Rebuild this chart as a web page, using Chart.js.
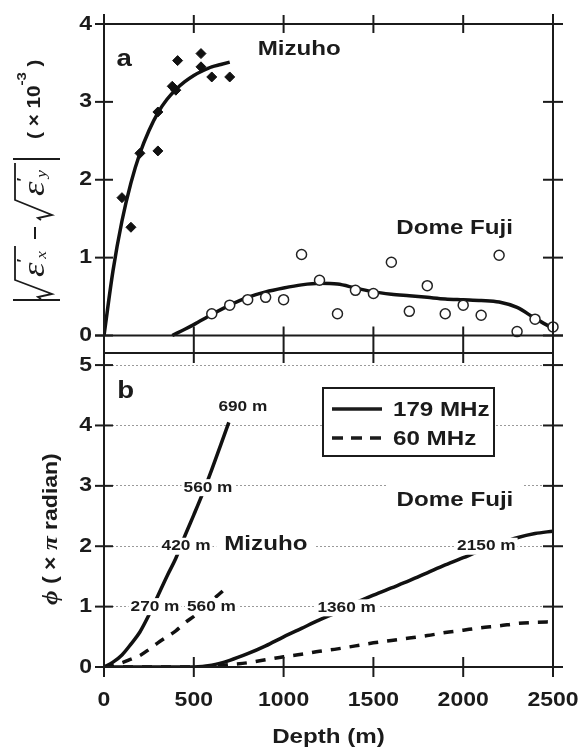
<!DOCTYPE html>
<html>
<head>
<meta charset="utf-8">
<script src="https://cdn.jsdelivr.net/npm/chart.js@4.4.1/dist/chart.umd.min.js"></script>
<style>
  html, body { margin: 0; background: #fff; }
  canvas { display: block; }
</style>
</head>
<body>
<canvas id="fig" width="580" height="752"></canvas>
<script>
// ---- panel a : measured points ----
var mizuhoDepth = [100, 150, 200, 300, 300, 380, 400, 410, 540, 540, 600, 700];
var mizuhoAniso = [1.77, 1.39, 2.34, 2.37, 2.87, 3.20, 3.15, 3.53, 3.62, 3.45, 3.32, 3.32];
var domeDepth = [600, 700, 800, 900, 1000, 1100, 1200, 1300, 1400, 1500, 1600, 1700, 1800, 1900, 2000, 2100, 2200, 2300, 2400, 2500];
var domeAniso = [0.28, 0.39, 0.46, 0.49, 0.46, 1.04, 0.71, 0.28, 0.58, 0.54, 0.94, 0.31, 0.64, 0.28, 0.39, 0.26, 1.03, 0.05, 0.21, 0.11];

// ---- panel a : fitted curves ----
var mizuhoFitDepth = [0, 50, 100, 150, 200, 250, 300, 350, 400, 450, 500, 550, 600, 650, 700];
var mizuhoFit = [0, 0.83, 1.47, 1.96, 2.34, 2.63, 2.86, 3.03, 3.16, 3.26, 3.34, 3.40, 3.45, 3.48, 3.51];
var domeFitDepth = [380, 450, 500, 600, 700, 800, 900, 1000, 1100, 1200, 1300, 1400, 1500, 1600, 1700, 1800, 1900, 2000, 2100, 2200, 2300, 2400, 2500];
var domeFit = [0, 0.08, 0.14, 0.27, 0.39, 0.49, 0.56, 0.61, 0.65, 0.67, 0.66, 0.61, 0.56, 0.53, 0.51, 0.49, 0.47, 0.46, 0.45, 0.43, 0.36, 0.22, 0.09];

// ---- panel b : phase difference (x pi radian) ----
var mizuhoPhaseDepth = [0, 50, 100, 150, 200, 250, 300, 350, 400, 450, 500, 550, 600, 650, 695];
var mizuho179 = [0, 0.08, 0.2, 0.38, 0.58, 0.86, 1.18, 1.5, 1.8, 2.17, 2.52, 2.88, 3.27, 3.68, 4.05];
var mizuho60 = [0, 0.03, 0.07, 0.13, 0.19, 0.29, 0.4, 0.5, 0.6, 0.73, 0.84, 0.96, 1.1, 1.23, 1.36];
var domePhaseDepth = [0, 500, 600, 700, 800, 900, 1000, 1100, 1200, 1300, 1400, 1500, 1600, 1700, 1800, 1900, 2000, 2100, 2200, 2300, 2400, 2500];
var dome179 = [0, 0, 0.03, 0.11, 0.22, 0.35, 0.5, 0.64, 0.78, 0.91, 1.06, 1.19, 1.31, 1.43, 1.56, 1.69, 1.81, 1.93, 2.04, 2.14, 2.21, 2.25];
var dome60 = [0, 0, 0.01, 0.04, 0.07, 0.12, 0.17, 0.21, 0.26, 0.3, 0.35, 0.4, 0.44, 0.48, 0.52, 0.57, 0.61, 0.65, 0.68, 0.72, 0.74, 0.75];

// ---- axes ----
var depthTicks = [0, 500, 1000, 1500, 2000, 2500];
var anisoTicks = [0, 1, 2, 3, 4];
var phaseTicks = [0, 1, 2, 3, 4, 5];

// depth labels on the curves, in data units [text, depth, phase]
var curveLabels = [
  ['690 m', 773, 4.3], ['560 m', 579, 2.97], ['420 m', 457, 2.0], ['270 m', 284, 1.0],
  ['560 m', 598, 1.0], ['1360 m', 1351, 0.98], ['2150 m', 2129, 2.0]
];

var INK = '#1b1b1b';
var SANS = '"Liberation Sans", Arial, sans-serif';
var SERIF = '"Liberation Serif", "DejaVu Serif", serif';
var SX = 1.15;

function pts(xs, ys) {
  return xs.map(function (v, i) { return { x: v, y: ys[i] }; });
}

function txt(ctx, s, x, y, size, align) {
  ctx.save();
  ctx.font = 'bold ' + size + 'px ' + SANS;
  ctx.textAlign = align || 'center';
  ctx.textBaseline = 'middle';
  ctx.fillStyle = INK;
  ctx.translate(x, y);
  ctx.scale(SX, 1);
  ctx.fillText(s, 0, 0);
  ctx.restore();
}

function boxed(ctx, s, x, y, size, padX, padY) {
  ctx.font = 'bold ' + size + 'px ' + SANS;
  var w = ctx.measureText(s).width * SX;
  ctx.fillStyle = '#fff';
  ctx.fillRect(x - w / 2 - padX, y - size / 2 - padY, w + 2 * padX, size + 2 * padY);
  txt(ctx, s, x, y, size);
}

function seg(ctx, x1, y1, x2, y2) {
  ctx.beginPath();
  ctx.moveTo(x1, y1);
  ctx.lineTo(x2, y2);
  ctx.stroke();
}

function poly(ctx, p) {
  ctx.beginPath();
  ctx.moveTo(p[0][0], p[0][1]);
  for (var i = 1; i < p.length; i++) ctx.lineTo(p[i][0], p[i][1]);
  ctx.stroke();
}

// runs of [text, font, shift] written one after the other along the baseline
function runs(ctx, list, x, y) {
  list.forEach(function (r) {
    ctx.save();
    ctx.font = r[1];
    ctx.translate(x, y + (r[2] || 0));
    ctx.scale(SX, 1);
    ctx.fillText(r[0], 0, 0);
    x += ctx.measureText(r[0]).width * SX;
    ctx.restore();
  });
  return x;
}

function titleA(ctx) {
  ctx.save();
  ctx.translate(56, 307);
  ctx.rotate(-Math.PI / 2);
  ctx.strokeStyle = INK;
  ctx.fillStyle = INK;
  ctx.textAlign = 'left';
  ctx.textBaseline = 'alphabetic';
  ctx.lineWidth = 2;
  seg(ctx, 7, -43, 7, 4);
  seg(ctx, 148, -43, 148, 4);
  seg(ctx, 68, -21, 80, -21);
  ctx.lineWidth = 1.8;
  poly(ctx, [[8, -15], [10, -18], [13, -4], [27, -41], [61, -41]]);
  poly(ctx, [[87, -15], [89, -18], [92, -4], [107, -41], [144, -41]]);
  var eps = 'italic 32px ' + SERIF, pr = 'bold 14px ' + SANS, sub = 'italic 15px ' + SERIF;
  runs(ctx, [['\u03b5', eps], ['\u2032', pr, -17], ['x', sub, 2]], 30, -12);
  runs(ctx, [['\u03b5', eps], ['\u2032', pr, -17], ['y', sub, 2]], 111, -12);
  var b = 'bold 18px ' + SANS, s = 'bold 13px ' + SANS;
  runs(ctx, [['( \u00d7 10', b], ['-3', s, -14], [' )', b]], 168, -16);
  ctx.restore();
}

function titleB(ctx) {
  ctx.save();
  ctx.translate(57, 605);
  ctx.rotate(-Math.PI / 2);
  ctx.fillStyle = INK;
  ctx.textAlign = 'left';
  ctx.textBaseline = 'alphabetic';
  var b = 'bold 20px ' + SANS, g = 'italic bold 22px ' + SERIF;
  runs(ctx, [['\u03d5', g], [' ( \u00d7 ', b], ['\u03c0', g], [' radian)', b]], 0, 0);
  ctx.restore();
}

var decor = {
  id: 'decor',
  afterDatasetsDraw: function (c) {
    var ctx = c.ctx, x = c.scales.x, ya = c.scales.ya, yb = c.scales.yb;
    var L = x.getPixelForValue(0), R = x.getPixelForValue(2500);
    var aT = ya.getPixelForValue(4), aB = ya.getPixelForValue(0);
    var bT = yb.getPixelForValue(5.2), bB = yb.getPixelForValue(0);
    ctx.save();

    // labels on the curves (white boxes break the curves and grid)
    curveLabels.forEach(function (l) {
      boxed(ctx, l[0], x.getPixelForValue(l[1]), yb.getPixelForValue(l[2]), 15, 2, 1);
    });
    boxed(ctx, 'Mizuho', x.getPixelForValue(901), yb.getPixelForValue(2.03), 21, 8, 2);
    boxed(ctx, 'Dome Fuji', x.getPixelForValue(1954), yb.getPixelForValue(2.76), 21, 10, 6);
    txt(ctx, 'b', x.getPixelForValue(121), yb.getPixelForValue(4.56), 24);
    txt(ctx, 'a', x.getPixelForValue(112), ya.getPixelForValue(3.54), 24);
    txt(ctx, 'Mizuho', x.getPixelForValue(1087), ya.getPixelForValue(3.67), 21);
    txt(ctx, 'Dome Fuji', x.getPixelForValue(1952), ya.getPixelForValue(1.38), 21);

    // legend
    var lx = L + 219, ly = bT + 35;
    ctx.fillStyle = '#fff';
    ctx.fillRect(lx, ly, 171, 68);
    ctx.strokeStyle = INK;
    ctx.lineWidth = 2;
    ctx.strokeRect(lx, ly, 171, 68);
    ctx.lineWidth = 3.5;
    seg(ctx, lx + 9, ly + 21, lx + 59, ly + 21);
    ctx.setLineDash([11, 8]);
    seg(ctx, lx + 9, ly + 50, lx + 59, ly + 50);
    ctx.setLineDash([]);
    txt(ctx, '179 MHz', lx + 70, ly + 22, 21, 'left');
    txt(ctx, '60 MHz', lx + 70, ly + 51, 21, 'left');

    // frames and crossing ticks
    ctx.strokeStyle = INK;
    ctx.lineWidth = 2;
    seg(ctx, L, aT - 10, L, bB + 10);
    seg(ctx, R, aT - 10, R, bB + 10);
    seg(ctx, L - 9, aT, R + 10, aT);
    seg(ctx, L - 9, aB, R + 10, aB);
    seg(ctx, L, bT, R, bT);
    seg(ctx, L - 9, bB, R + 10, bB);
    depthTicks.forEach(function (d) {
      var p = x.getPixelForValue(d);
      if (d > 0 && d < 2500) {
        seg(ctx, p, aT - 9, p, aT + 9);
        seg(ctx, p, aB - 9, p, bT + 10);
        seg(ctx, p, bB - 10, p, bB + 10);
      }
      txt(ctx, String(d), p, bB + 33, 20);
    });
    anisoTicks.forEach(function (v) {
      var p = ya.getPixelForValue(v);
      seg(ctx, L - 9, p, L + 9, p);
      seg(ctx, R - 10, p, R + 10, p);
      txt(ctx, String(v), L - 12, p, 20, 'right');
    });
    phaseTicks.forEach(function (v) {
      var p = yb.getPixelForValue(v);
      seg(ctx, L - 9, p, L + 9, p);
      seg(ctx, R - 10, p, R + 10, p);
      txt(ctx, String(v), L - 12, p, 20, 'right');
    });
    txt(ctx, 'Depth (m)', (L + R) / 2, bB + 70, 21);
    titleA(ctx);
    titleB(ctx);
    ctx.restore();
  }
};

var curve = { showLine: true, pointRadius: 0, borderColor: '#111', borderWidth: 3.5, cubicInterpolationMode: 'monotone', order: 2 };

var config = {
  type: 'scatter',
  data: {
    datasets: [
      { label: 'Mizuho', data: pts(mizuhoDepth, mizuhoAniso), yAxisID: 'ya', pointStyle: 'rectRot', pointRadius: 5, backgroundColor: '#111', borderColor: '#111', borderWidth: 1, order: 0 },
      { label: 'Dome Fuji', data: pts(domeDepth, domeAniso), yAxisID: 'ya', pointStyle: 'circle', pointRadius: 5, backgroundColor: '#fff', borderColor: '#222', borderWidth: 1.5, order: 0, clip: false },
      Object.assign({ label: 'Mizuho fit', data: pts(mizuhoFitDepth, mizuhoFit), yAxisID: 'ya' }, curve),
      Object.assign({ label: 'Dome Fuji fit', data: pts(domeFitDepth, domeFit), yAxisID: 'ya' }, curve),
      Object.assign({ label: 'Mizuho 179 MHz', data: pts(mizuhoPhaseDepth, mizuho179), yAxisID: 'yb' }, curve),
      Object.assign({ label: 'Mizuho 60 MHz', data: pts(mizuhoPhaseDepth, mizuho60), yAxisID: 'yb', borderDash: [10, 9] }, curve),
      Object.assign({ label: 'Dome Fuji 179 MHz', data: pts(domePhaseDepth, dome179), yAxisID: 'yb' }, curve),
      Object.assign({ label: 'Dome Fuji 60 MHz', data: pts(domePhaseDepth, dome60), yAxisID: 'yb', borderDash: [10, 9] }, curve)
    ]
  },
  options: {
    responsive: false,
    animation: false,
    devicePixelRatio: 1,
    layout: { padding: { left: 104, right: 27, top: 24, bottom: 85 } },
    plugins: { legend: { display: false }, tooltip: { enabled: false } },
    scales: {
      x: {
        type: 'linear', min: 0, max: 2500,
        grid: { display: false, drawTicks: false },
        border: { display: false },
        ticks: { display: false }
      },
      yb: {
        type: 'linear', position: 'left', stack: 'panels', stackWeight: 314,
        min: 0, max: 5.2,
        grid: { color: '#9a9a9a', lineWidth: 1, drawTicks: false },
        border: { display: false, dash: [2, 2] },
        ticks: { display: false, stepSize: 1, includeBounds: false }
      },
      ya: {
        type: 'linear', position: 'left', stack: 'panels', stackWeight: 329,
        min: -0.2247, max: 4,
        grid: { display: false, drawTicks: false },
        border: { display: false },
        ticks: { display: false, stepSize: 1, includeBounds: false }
      }
    }
  },
  plugins: [decor]
};

var ctx = document.getElementById('fig').getContext('2d');
var chart = new Chart(ctx, config);
</script>
</body>
</html>
